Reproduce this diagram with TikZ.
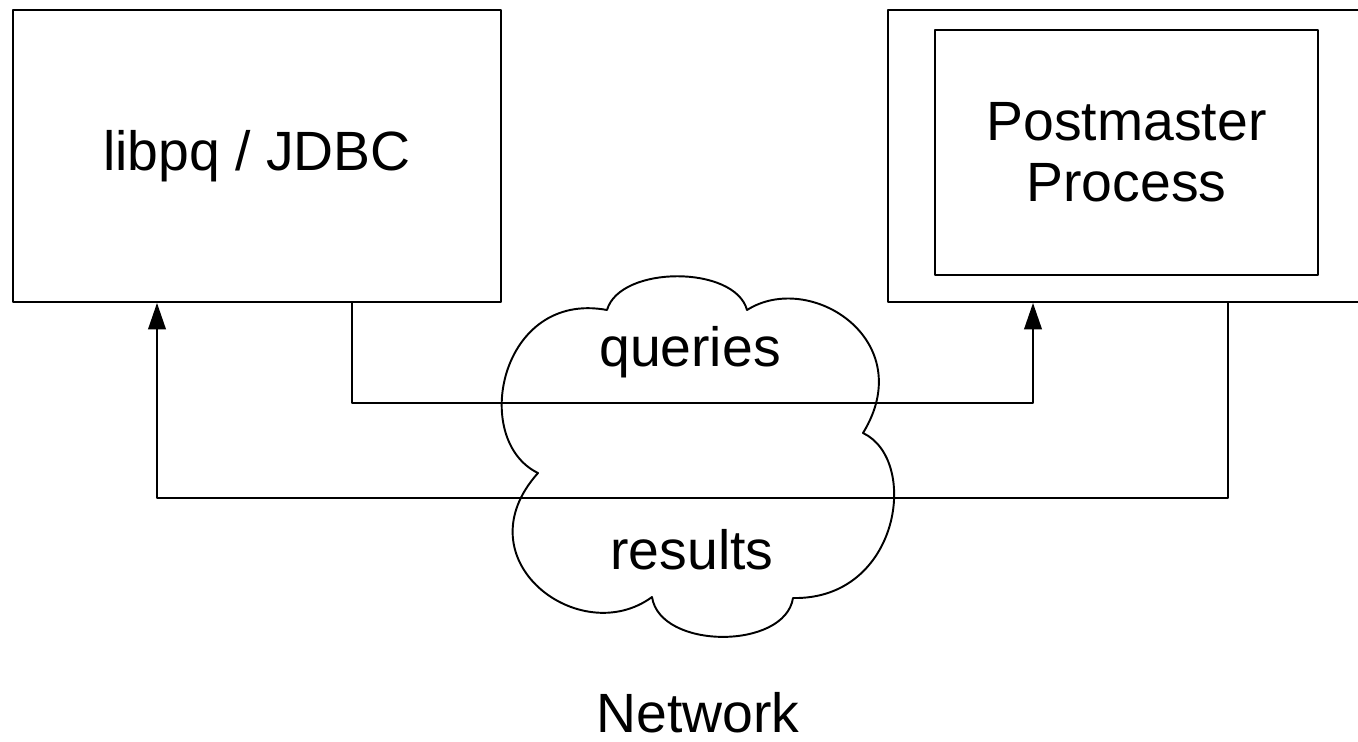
\documentclass[tikz,border=0pt]{standalone}
\usepackage{fontspec}
\setmainfont{Liberation Sans}
\usetikzlibrary{arrows.meta}

\begin{document}
\begin{tikzpicture}[x=0.02cm,y=-0.02cm,line join=round,line width=1.1pt,
	font=\fontsize{31.5}{34.6}\selectfont,
	box/.style={draw,line width=1.1pt,align=center},
	flow/.style={-{Triangle[length=15pt,width=10pt]}}]
	\useasboundingbox (0,0) rectangle (1358,741);
	\clip (0,0) rectangle (1358,741);
	% client side and server side
	\node[box,minimum width=9.76cm,minimum height=5.84cm] (client) at (257,156) {libpq / JDBC};
	\node[box,minimum width=9.64cm,minimum height=5.84cm] (server) at (1129,156) {};
	\node[box,minimum width=7.66cm,minimum height=4.9cm] (postmaster) at (1126.5,152.5) {Postmaster\\Process};
	% network cloud
	\draw (607,310) .. controls (620,265) and (735,265) .. (747,310)
		.. controls (810,270) and (920,340) .. (863,433)
		.. controls (920,460) and (900,600) .. (793,598)
		.. controls (785,650) and (660,650) .. (652,597)
		.. controls (580,650) and (460,560) .. (538,473)
		.. controls (470,440) and (500,290) .. cycle;
	\node (queries) at (690,352) {queries};
	\node (results) at (692,550) {results};
	\node[anchor=base,inner sep=0pt] (network) at (698,732) {Network};
	% connectors
	\coordinate (qa) at (352,403);
	\coordinate (qb) at (1033,403);
	\coordinate (ra) at (1228,498);
	\coordinate (rb) at (157,498);
	\draw[flow] (client.south -| qa) -- (qa) -- (qb) -- (server.south -| qb);
	\draw[flow] (server.south -| ra) -- (ra) -- (rb) -- (client.south -| rb);
\end{tikzpicture}
\end{document}
